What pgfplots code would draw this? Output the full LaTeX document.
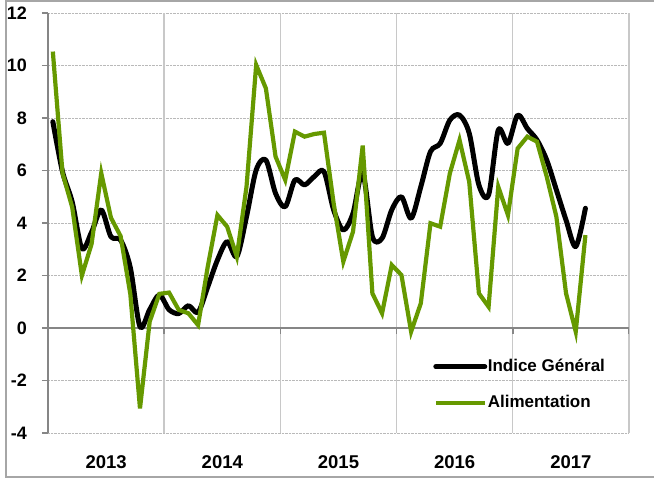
\documentclass[border=0pt]{standalone}
\usepackage{fontspec}
\setmainfont{Liberation Sans}
\usepackage{pgfplots}
\pgfplotsset{compat=1.18}
\definecolor{grn}{RGB}{102,153,0}
\definecolor{axgray}{RGB}{134,134,134}
\definecolor{gridgray}{RGB}{200,200,200}
\begin{document}
\begin{tikzpicture}[x=1pt,y=1pt]
\useasboundingbox (0,0) rectangle (654,479);
\draw[color=gray!70, line width=1.5pt] (6,2) rectangle (680,478);
\begin{axis}[
  at={(48pt,46pt)}, anchor=south west,
  scale only axis, width=581pt, height=420pt,
  xmin=0, xmax=60, ymin=-4, ymax=12,
  axis lines*=left,
  x axis line style={draw=none},
  y axis line style={color=axgray, line width=1.8pt},
  xtick={6,18,30,42,54},
  xticklabels={2013,2014,2015,2016,2017},
  x tick style={draw=none},
  xticklabel style={anchor=center, yshift=-23pt, inner sep=0pt, font=\fontsize{18.5}{21}\selectfont\bfseries},
  extra x ticks={12,24,36,48,60},
  extra x tick labels={},
  extra x tick style={grid=major, major grid style={solid, color=gridgray, line width=1.4pt}, tick style={draw=none}},
  ytick={-4,-2,0,2,4,6,8,10,12},
  yticklabels={-4,-2,0,2,4,6,8,10,12},
  ytick pos=left, tick align=outside,
  y tick style={color=axgray, line width=1.5pt},
  major tick length=6pt,
  yticklabel style={anchor=east, xshift=-15pt, inner sep=0pt, font=\fontsize{18}{21}\selectfont\bfseries},
  ymajorgrids,
  y grid style={densely dotted, color=gray!55, line width=0.9pt},
  legend cell align=left,
  legend style={at={(axis cs:39.77,-2.16)}, anchor=west, draw=none, fill=none,
    inner xsep=0pt, inner ysep=0pt, row sep=16pt,
    font=\fontsize{17}{20}\selectfont\bfseries,
    nodes={inner xsep=0.5pt, inner ysep=2pt, text height=12.5pt, text depth=3.5pt}},
  legend image code/.code={\draw[#1] (0pt,0pt) -- (49pt,0pt);},
]
\draw[color=axgray, line width=1.8pt] (axis cs:0,0) -- (axis cs:60,0);
\draw[color=axgray, line width=1.5pt] (axis cs:12,0) -- ++(0pt,-6pt);
\draw[color=axgray, line width=1.5pt] (axis cs:24,0) -- ++(0pt,-6pt);
\draw[color=axgray, line width=1.5pt] (axis cs:36,0) -- ++(0pt,-6pt);
\draw[color=axgray, line width=1.5pt] (axis cs:48,0) -- ++(0pt,-6pt);
\draw[color=axgray, line width=1.5pt] (axis cs:60,0) -- ++(0pt,-6pt);
\addplot[black, line width=5pt, smooth, line join=round, line cap=round] coordinates {
(0.5,7.86) (1.5,5.95) (2.5,4.8) (3.5,3.03) (4.5,3.65) (5.5,4.5) (6.5,3.48) (7.5,3.35) (8.5,2.3) (9.5,0.05) (10.5,0.7) (11.5,1.26)
(12.5,0.7) (13.5,0.55) (14.5,0.85) (15.5,0.6) (16.5,1.57) (17.5,2.59) (18.5,3.29) (19.5,2.72) (20.5,4.24) (21.5,6.02) (22.5,6.4) (23.5,5.13)
(24.5,4.62) (25.5,5.64) (26.5,5.45) (27.5,5.77) (28.5,5.96) (29.5,4.5) (30.5,3.73) (31.5,4.37) (32.5,5.9) (33.5,3.48) (34.5,3.42) (35.5,4.5)
(36.5,5.0) (37.5,4.18) (38.5,5.38) (39.5,6.72) (40.5,7.03) (41.5,7.92) (42.5,8.11) (43.5,7.42) (44.5,5.45) (45.5,5.07) (46.5,7.54) (47.5,7.03)
(48.5,8.11) (49.5,7.6) (50.5,7.16) (51.5,6.4) (52.5,5.26) (53.5,4.11) (54.5,3.1) (55.5,4.56)
};
\addlegendentry{Indice Général}
\addplot[grn, line width=4.2pt] coordinates {
(0.5,10.53) (1.5,5.9) (2.5,4.6) (3.5,2.0) (4.5,3.2) (5.5,5.9) (6.5,4.2) (7.5,3.5) (8.5,1.3) (9.5,-3.06) (10.5,0.24) (11.5,1.3)
(12.5,1.35) (13.5,0.69) (14.5,0.56) (15.5,0.11) (16.5,2.34) (17.5,4.3) (18.5,3.86) (19.5,2.72) (20.5,5.38) (21.5,10.02) (22.5,9.13) (23.5,6.53)
(24.5,5.64) (25.5,7.48) (26.5,7.29) (27.5,7.39) (28.5,7.44) (29.5,4.75) (30.5,2.53) (31.5,3.67) (32.5,6.95) (33.5,1.32) (34.5,0.56) (35.5,2.4)
(36.5,2.02) (37.5,-0.14) (38.5,0.94) (39.5,3.99) (40.5,3.86) (41.5,5.89) (42.5,7.16) (43.5,5.57) (44.5,1.32) (45.5,0.81) (46.5,5.38) (47.5,4.3)
(48.5,6.84) (49.5,7.29) (50.5,7.1) (51.5,5.77) (52.5,4.24) (53.5,1.32) (54.5,-0.14) (55.5,3.54)
};
\addlegendentry{Alimentation}
\end{axis}
\end{tikzpicture}
\end{document}
